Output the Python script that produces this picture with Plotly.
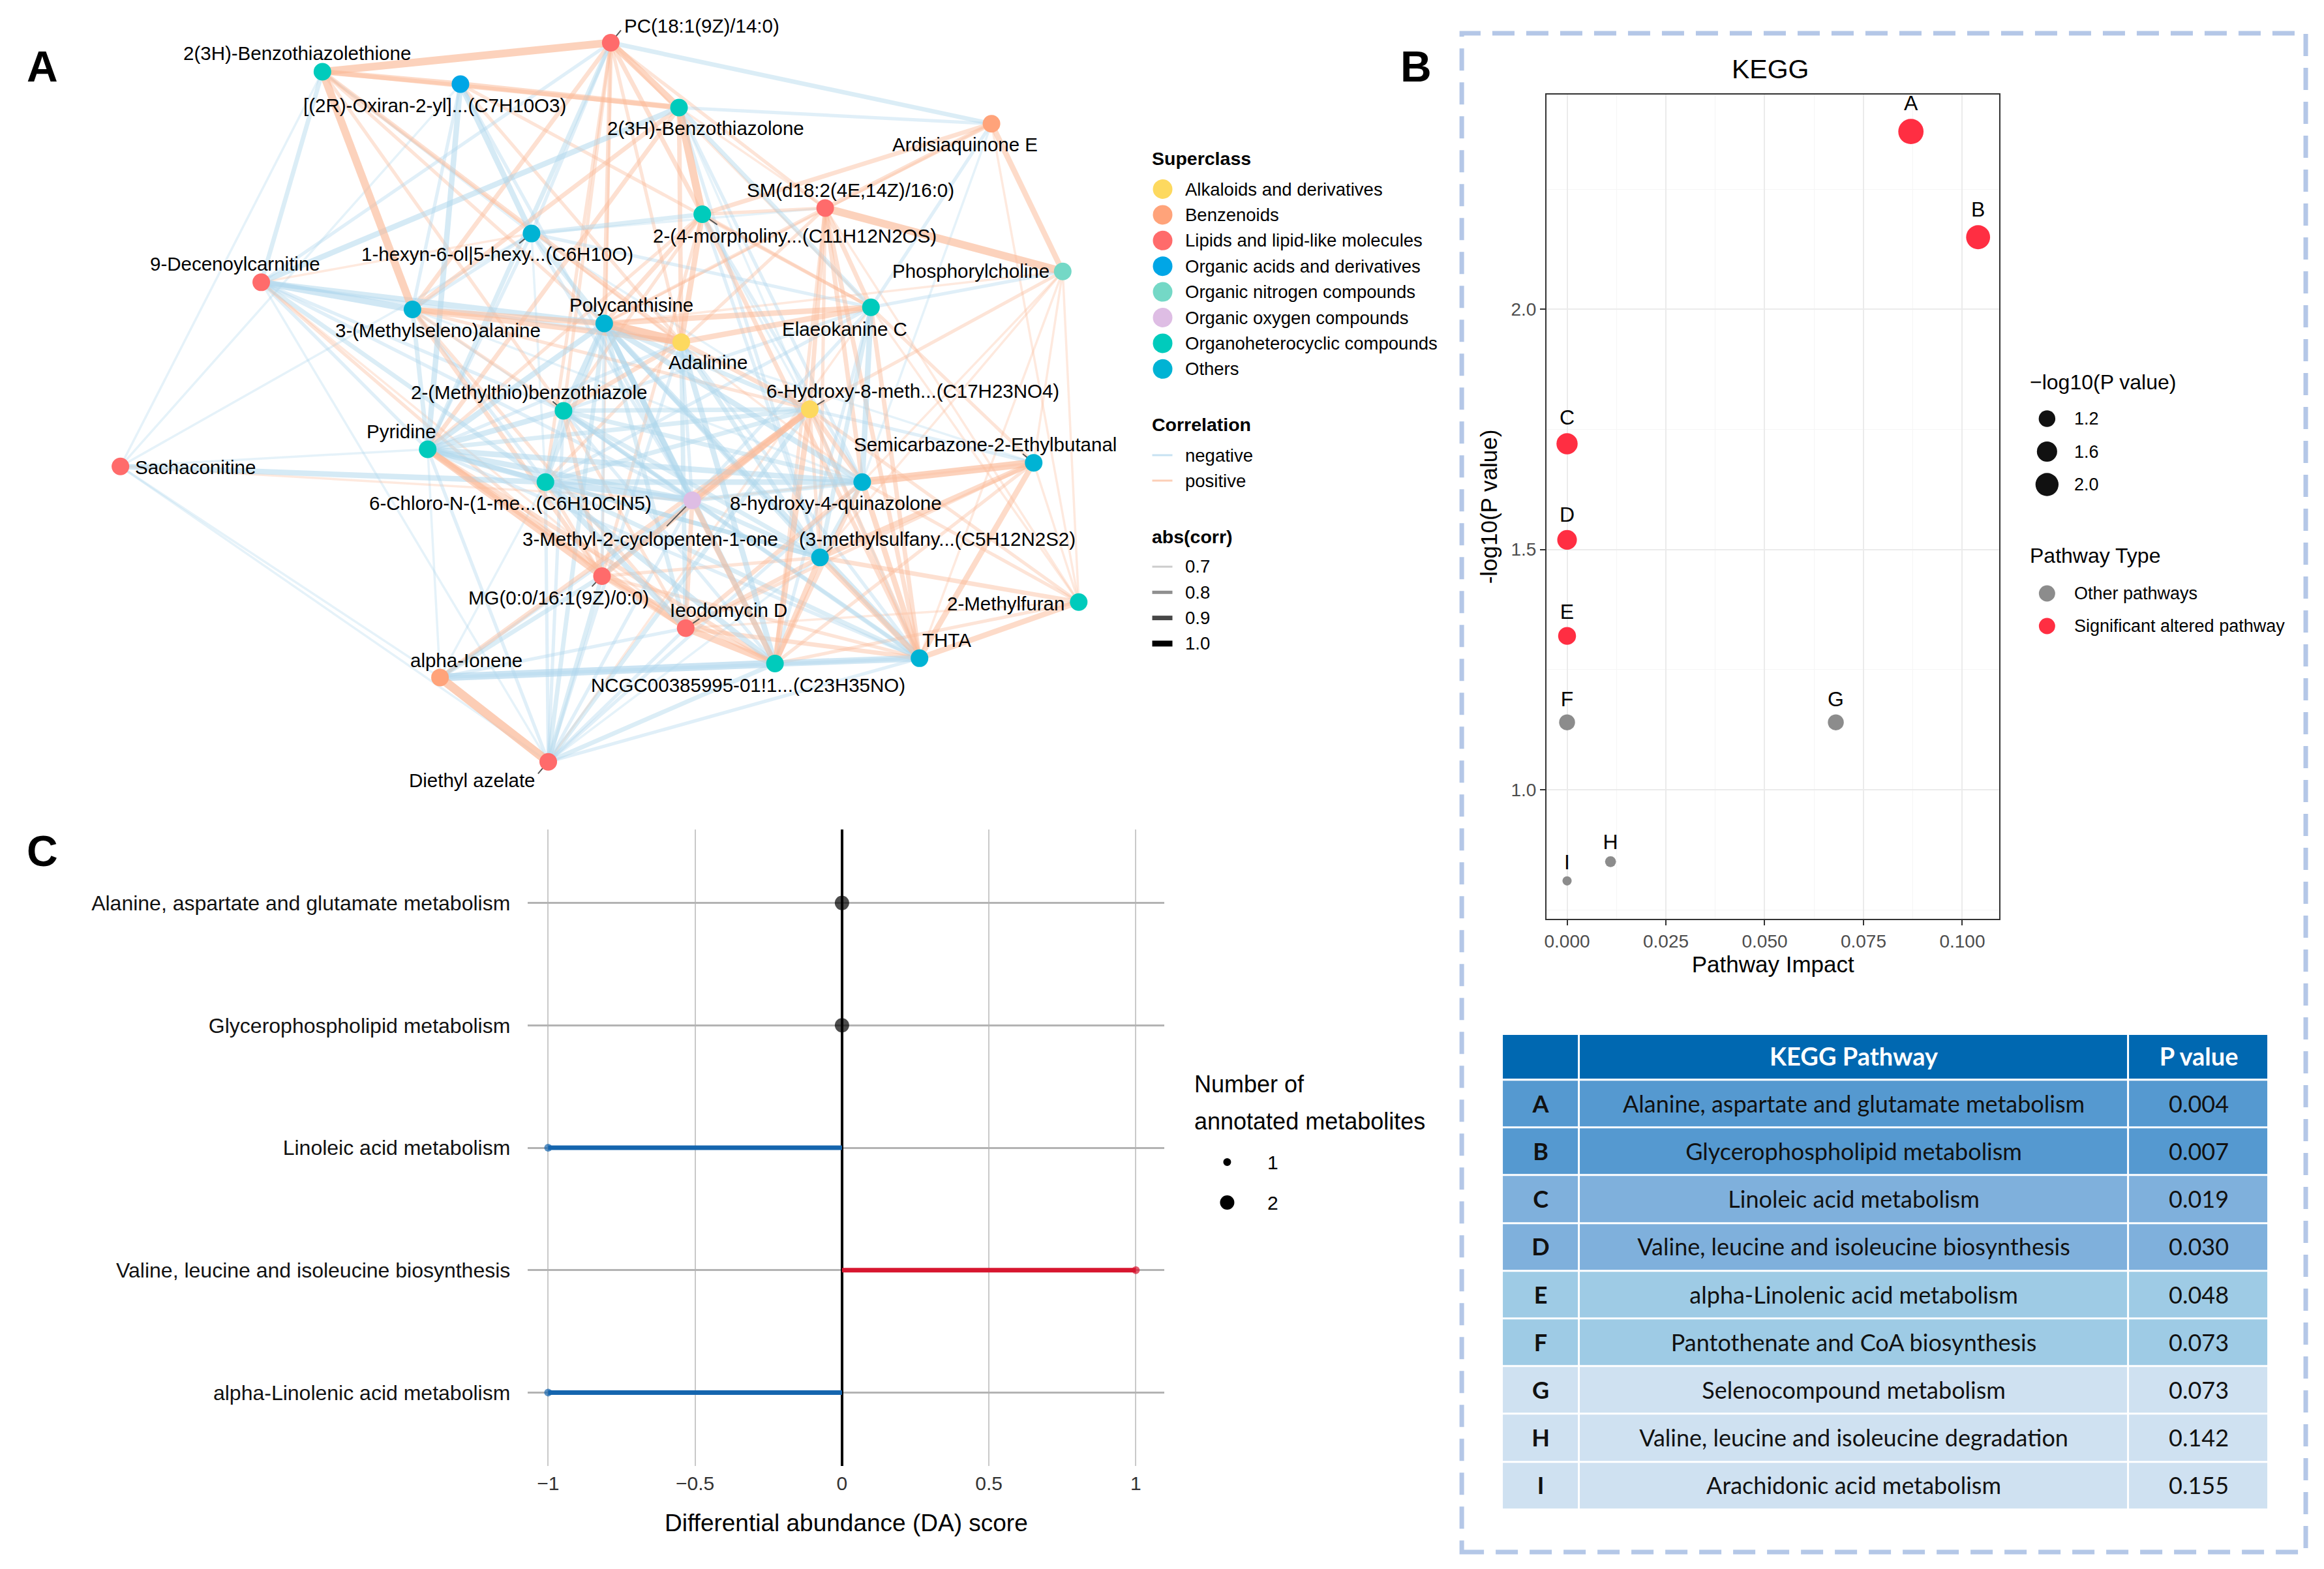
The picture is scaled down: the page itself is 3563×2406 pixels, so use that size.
import plotly.graph_objects as go

W, H = 3563, 2406
FONT = "Liberation Sans"

# ===================== Panel A : correlation network =====================
node_ids = ["PC", "BTT", "OXI", "BTO", "ARD", "SM", "MOR", "HEX", "PHO", "DEC",
            "ELA", "MSA", "POL", "ADA", "HYD", "MTB", "PYR", "SAC", "SEM", "CHL",
            "HQZ", "MCP", "MSF", "MG", "MFU", "IEO", "THTA", "NCGC", "ION", "DEA"]
node_labels = ["PC(18:1(9Z)/14:0)", "2(3H)-Benzothiazolethione", "[(2R)-Oxiran-2-yl]...(C7H10O3)",
               "2(3H)-Benzothiazolone", "Ardisiaquinone E", "SM(d18:2(4E,14Z)/16:0)",
               "2-(4-morpholiny...(C11H12N2OS)", "1-hexyn-6-ol|5-hexy...(C6H10O)", "Phosphorylcholine",
               "9-Decenoylcarnitine", "Elaeokanine C", "3-(Methylseleno)alanine", "Polycanthisine",
               "Adalinine", "6-Hydroxy-8-meth...(C17H23NO4)", "2-(Methylthio)benzothiazole", "Pyridine",
               "Sachaconitine", "Semicarbazone-2-Ethylbutanal", "6-Chloro-N-(1-me...(C6H10ClN5)",
               "8-hydroxy-4-quinazolone", "3-Methyl-2-cyclopenten-1-one", "(3-methylsulfany...(C5H12N2S2)",
               "MG(0:0/16:1(9Z)/0:0)", "2-Methylfuran", "Ieodomycin D", "THTA",
               "NCGC00385995-01!1...(C23H35NO)", "alpha-Ionene", "Diethyl azelate"]
node_superclass = ["Lipids and lipid-like molecules", "Organoheterocyclic compounds", "Organic acids and derivatives",
                   "Organoheterocyclic compounds", "Benzenoids", "Lipids and lipid-like molecules",
                   "Organoheterocyclic compounds", "Others", "Organic nitrogen compounds",
                   "Lipids and lipid-like molecules", "Organoheterocyclic compounds", "Others", "Others",
                   "Alkaloids and derivatives", "Alkaloids and derivatives", "Organoheterocyclic compounds",
                   "Organoheterocyclic compounds", "Lipids and lipid-like molecules", "Others",
                   "Organoheterocyclic compounds", "Others", "Organic oxygen compounds", "Others",
                   "Lipids and lipid-like molecules", "Organoheterocyclic compounds",
                   "Lipids and lipid-like molecules", "Others", "Organoheterocyclic compounds", "Benzenoids",
                   "Lipids and lipid-like molecules"]
# network layout coordinates (layout units)
node_x = [411.1, 216.4, 309.6, 457.2, 668.2, 555.9, 472.9, 357.6, 716.3, 175.1,
          586.8, 277.2, 406.7, 458.7, 545.5, 379.2, 287.5, 80.0, 696.7, 367.0,
          580.9, 466.1, 552.4, 405.2, 727.1, 461.7, 619.6, 522.0, 295.8, 368.9]
node_y = [28.8, 48.4, 56.8, 72.6, 83.5, 140.4, 144.6, 157.6, 183.2, 190.5,
          207.4, 208.8, 218.3, 230.9, 276.2, 277.2, 303.2, 314.8, 312.3, 325.3,
          325.3, 337.6, 376.2, 388.8, 406.3, 423.9, 444.2, 447.8, 457.2, 514.1]

superclass_names = ["Alkaloids and derivatives", "Benzenoids", "Lipids and lipid-like molecules",
                    "Organic acids and derivatives", "Organic nitrogen compounds", "Organic oxygen compounds",
                    "Organoheterocyclic compounds", "Others"]
corr_levels = [0.7, 0.8, 0.9, 1.0]

edges = [
    ("BTT", "PC", 0.95), ("BTT", "OXI", 0.85), ("BTT", "BTO", 0.8), ("BTT", "MSA", 0.95),
    ("BTT", "DEC", -0.8), ("BTT", "SAC", -0.7), ("BTT", "ADA", 0.8), ("BTT", "MTB", 0.75),
    ("BTT", "HQZ", 0.7), ("BTT", "HEX", -0.7), ("BTT", "POL", 0.75),
    ("OXI", "BTO", 0.85), ("OXI", "PYR", -0.85), ("OXI", "HEX", -0.85), ("OXI", "MSA", -0.75),
    ("OXI", "SAC", -0.7), ("OXI", "ELA", 0.75), ("OXI", "MCP", -0.75), ("OXI", "ADA", 0.75),
    ("PC", "BTO", 0.9), ("PC", "ARD", -0.8), ("PC", "SM", 0.75), ("PC", "MOR", 0.8),
    ("PC", "MSA", 0.8), ("PC", "POL", 0.8), ("PC", "ADA", 0.75), ("PC", "MTB", 0.75),
    ("PC", "PYR", -0.8), ("PC", "HEX", -0.75), ("PC", "ELA", 0.7), ("PC", "DEC", -0.75),
    ("PC", "CHL", 0.75), ("PC", "MG", 0.7),
    ("BTO", "MOR", 0.95), ("BTO", "ARD", -0.75), ("BTO", "ADA", 0.8), ("BTO", "HQZ", -0.75),
    ("BTO", "ELA", -0.8), ("BTO", "SM", 0.7), ("BTO", "THTA", -0.7), ("BTO", "MSA", 0.8),
    ("BTO", "PYR", 0.8), ("BTO", "DEC", -0.85), ("BTO", "MSF", -0.75),
    ("ARD", "PHO", 0.85), ("ARD", "SM", 0.8), ("ARD", "MOR", 0.8), ("ARD", "ELA", -0.75),
    ("ARD", "HQZ", -0.7), ("ARD", "MFU", 0.7), ("ARD", "POL", 0.7),
    ("SM", "PHO", 0.95), ("SM", "MOR", 0.75), ("SM", "HEX", -0.7), ("SM", "ELA", 0.8),
    ("SM", "HYD", 0.8), ("SM", "HQZ", 0.8), ("SM", "THTA", 0.8), ("SM", "MSF", 0.75),
    ("SM", "NCGC", 0.75), ("SM", "POL", 0.75), ("SM", "MFU", 0.7), ("SM", "ADA", 0.75),
    ("MOR", "HEX", -0.8), ("MOR", "ELA", 0.75), ("MOR", "POL", 0.8), ("MOR", "ADA", 0.85),
    ("MOR", "HQZ", -0.75), ("MOR", "MSF", -0.75), ("MOR", "MTB", 0.75), ("MOR", "THTA", 0.8),
    ("MOR", "HYD", -0.7), ("MOR", "PYR", 0.75), ("MOR", "MG", 0.75),
    ("HEX", "MSA", -0.75), ("HEX", "POL", -0.8), ("HEX", "PYR", -0.75), ("HEX", "ELA", -0.75),
    ("HEX", "MCP", -0.75), ("HEX", "CHL", -0.7), ("HEX", "HYD", -0.7), ("HEX", "DEC", 0.7),
    ("PHO", "HYD", 0.75), ("PHO", "ELA", -0.75), ("PHO", "SEM", 0.7), ("PHO", "MFU", 0.7),
    ("PHO", "THTA", 0.7), ("PHO", "HQZ", 0.7), ("PHO", "POL", 0.7), ("PHO", "MSF", 0.7),
    ("DEC", "MSA", -0.9), ("DEC", "POL", -0.85), ("DEC", "CHL", -0.8), ("DEC", "PYR", -0.75),
    ("DEC", "MCP", -0.75), ("DEC", "MG", 0.75), ("DEC", "IEO", 0.7), ("DEC", "DEA", -0.7),
    ("DEC", "ADA", -0.75), ("DEC", "MTB", -0.75),
    ("ELA", "POL", 0.85), ("ELA", "ADA", 0.85), ("ELA", "HQZ", -0.85), ("ELA", "MSF", -0.8),
    ("ELA", "THTA", 0.8), ("ELA", "MCP", -0.75), ("ELA", "CHL", -0.75), ("ELA", "MTB", -0.75),
    ("ELA", "DEA", 0.7), ("ELA", "NCGC", -0.75),
    ("MSA", "POL", 0.85), ("MSA", "ADA", 0.85), ("MSA", "PYR", -0.8), ("MSA", "MTB", 0.75),
    ("MSA", "MG", 0.8), ("MSA", "CHL", -0.75), ("MSA", "IEO", 0.75), ("MSA", "HQZ", -0.7),
    ("MSA", "MCP", -0.7), ("MSA", "HYD", 0.75),
    ("POL", "ADA", 1.0), ("POL", "MTB", -0.85), ("POL", "PYR", -0.85), ("POL", "CHL", -0.8),
    ("POL", "MCP", -0.85), ("POL", "HQZ", -0.85), ("POL", "MSF", -0.8), ("POL", "THTA", -0.85),
    ("POL", "NCGC", -0.85), ("POL", "IEO", -0.8), ("POL", "MG", -0.75), ("POL", "DEA", -0.8),
    ("POL", "HYD", -0.8), ("POL", "SEM", -0.7),
    ("ADA", "HYD", 0.8), ("ADA", "MCP", -0.75), ("ADA", "NCGC", -0.85), ("ADA", "MSF", -0.8),
    ("ADA", "CHL", 0.75), ("ADA", "MTB", 0.8), ("ADA", "IEO", -0.8), ("ADA", "THTA", -0.75),
    ("ADA", "DEA", -0.75), ("ADA", "PYR", -0.75),
    ("HYD", "MCP", 0.9), ("HYD", "MG", 0.85), ("HYD", "NCGC", 0.85), ("HYD", "THTA", 0.8),
    ("HYD", "HQZ", 0.8), ("HYD", "MSF", 0.75), ("HYD", "MFU", 0.75), ("HYD", "SEM", -0.75),
    ("HYD", "MTB", -0.8), ("HYD", "PYR", -0.8), ("HYD", "CHL", -0.8), ("HYD", "ION", 0.8),
    ("HYD", "DEA", -0.8),
    ("MTB", "PYR", -0.85), ("MTB", "CHL", -0.8), ("MTB", "MCP", -0.8), ("MTB", "HQZ", -0.8),
    ("MTB", "NCGC", -0.75), ("MTB", "IEO", 0.75), ("MTB", "MG", 0.8), ("MTB", "THTA", -0.75),
    ("MTB", "DEA", -0.75), ("MTB", "MSF", -0.8),
    ("PYR", "CHL", -0.85), ("PYR", "MCP", -0.85), ("PYR", "HQZ", -0.85), ("PYR", "MG", 0.9),
    ("PYR", "IEO", 0.85), ("PYR", "NCGC", 0.8), ("PYR", "DEA", -0.75), ("PYR", "ION", -0.7),
    ("PYR", "MSF", -0.8), ("PYR", "THTA", -0.75), ("PYR", "SAC", -0.7),
    ("SAC", "CHL", -0.85), ("SAC", "MCP", 0.7), ("SAC", "DEA", -0.7), ("SAC", "ION", -0.7),
    ("SAC", "HEX", -0.7),
    ("CHL", "MCP", -0.9), ("CHL", "HQZ", -0.85), ("CHL", "IEO", -0.85), ("CHL", "NCGC", -0.85),
    ("CHL", "MG", 0.75), ("CHL", "DEA", -0.75), ("CHL", "THTA", -0.8), ("CHL", "MSF", -0.8),
    ("CHL", "ION", -0.7),
    ("SEM", "HQZ", 0.95), ("SEM", "THTA", 0.85), ("SEM", "MSF", 0.85), ("SEM", "MFU", 0.7),
    ("SEM", "NCGC", 0.75), ("SEM", "MCP", 0.7), ("SEM", "IEO", 0.75), ("SEM", "ELA", 0.75),
    ("HQZ", "MSF", -0.8), ("HQZ", "THTA", 0.85), ("HQZ", "NCGC", 0.8), ("HQZ", "MCP", -0.8),
    ("HQZ", "IEO", 0.8), ("HQZ", "MFU", 0.75), ("HQZ", "DEA", -0.75),
    ("MCP", "NCGC", 0.85), ("MCP", "IEO", 0.8), ("MCP", "MG", -0.8), ("MCP", "DEA", -0.75),
    ("MCP", "MSF", -0.8), ("MCP", "THTA", -0.8), ("MCP", "ION", -0.75),
    ("MSF", "THTA", 0.85), ("MSF", "NCGC", 0.85), ("MSF", "MFU", 0.8), ("MSF", "IEO", 0.8),
    ("MSF", "MG", 0.75), ("MSF", "DEA", -0.7),
    ("MG", "IEO", 0.8), ("MG", "NCGC", 0.8), ("MG", "ION", -0.8), ("MG", "DEA", -0.8),
    ("MG", "THTA", 0.75),
    ("MFU", "THTA", 0.85), ("MFU", "NCGC", 0.75), ("MFU", "IEO", 0.7), ("MFU", "ELA", 0.7),
    ("IEO", "NCGC", 0.9), ("IEO", "THTA", 0.8), ("IEO", "DEA", -0.75), ("IEO", "ION", -0.75),
    ("THTA", "NCGC", -0.9), ("THTA", "ION", -0.75), ("THTA", "DEA", -0.75),
    ("NCGC", "ION", -0.95), ("NCGC", "DEA", -0.8),
    ("ION", "DEA", 1.0),
]

# ===================== Panel B : KEGG pathway analysis =====================
kegg_ids = ["A", "B", "C", "D", "E", "F", "G", "H", "I"]
kegg_pathways = ["Alanine, aspartate and glutamate metabolism", "Glycerophospholipid metabolism",
                 "Linoleic acid metabolism", "Valine, leucine and isoleucine biosynthesis",
                 "alpha-Linolenic acid metabolism", "Pantothenate and CoA biosynthesis",
                 "Selenocompound metabolism", "Valine, leucine and isoleucine degradation",
                 "Arachidonic acid metabolism"]
kegg_pvalue = ["0.004", "0.007", "0.019", "0.030", "0.048", "0.073", "0.073", "0.142", "0.155"]
kegg_impact = [0.087, 0.104, 0.0, 0.0, 0.0, 0.0, 0.068, 0.011, 0.0]
kegg_neglogp = [2.37, 2.15, 1.72, 1.52, 1.32, 1.14, 1.14, 0.85, 0.81]
kegg_type = ["Significant altered pathway"] * 5 + ["Other pathways"] * 4
size_legend_values = [1.2, 1.6, 2.0]
type_levels = ["Other pathways", "Significant altered pathway"]
table_header = ["", "KEGG Pathway", "P value"]
table_shade = [0, 0, 1, 1, 2, 2, 3, 3, 3]   # shading group of each table row

# ===================== Panel C : DA score =====================
da_pathways = ["Alanine, aspartate and glutamate metabolism", "Glycerophospholipid metabolism",
               "Linoleic acid metabolism", "Valine, leucine and isoleucine biosynthesis",
               "alpha-Linolenic acid metabolism"]
da_score = [0, 0, -1, 1, -1]
da_count = [2, 2, 1, 1, 1]

# ------------------------------------------------------------------ styles
class_color = {
    "Alkaloids and derivatives": "#FDD95F",
    "Benzenoids": "#FFA37A",
    "Lipids and lipid-like molecules": "#FF6B6B",
    "Organic acids and derivatives": "#00A6E6",
    "Organic nitrogen compounds": "#74D8C6",
    "Organic oxygen compounds": "#DEBDE4",
    "Organoheterocyclic compounds": "#00CBBC",
    "Others": "#00B3D4",
}
type_color = {"Other pathways": "#8C8C8C", "Significant altered pathway": "#FF2E42"}
shade_colors = ["#5599D0", "#7FB0DC", "#9ECBE5", "#CFE1F1"]


def edge_style(c):
    a = abs(c)
    t = (a - 0.7) / 0.3
    width = 3.5 + 10 * t
    alpha = 0.32 + 0.40 * t
    if c > 0:
        return f"rgba(251,186,152,{alpha:.2f})", width
    return f"rgba(175,214,236,{alpha:.2f})", width


def kegg_size(v):
    return 12 + 27 * max(v - 0.8, 0) ** 0.5 / 1.6 ** 0.5


shapes, annotations = [], []


def P(x, y):
    return x / W, 1 - y / H


def add_text(x, y, s, size, color="#000000", xanchor="left", yanchor="middle", family=FONT, textangle=0):
    px, py = P(x, y)
    annotations.append(dict(x=px, y=py, xref="paper", yref="paper", text=s, showarrow=False,
                            xanchor=xanchor, yanchor=yanchor, textangle=textangle,
                            font=dict(size=size, color=color, family=family)))


def add_circle(cx, cy, d, color):
    x0, y0 = P(cx - d / 2, cy + d / 2)
    x1, y1 = P(cx + d / 2, cy - d / 2)
    shapes.append(dict(type="circle", xref="paper", yref="paper", x0=x0, y0=y0, x1=x1, y1=y1,
                       fillcolor=color, line=dict(width=0)))


def add_hline(xa, xb, y, width, color):
    x0, yy = P(xa, y)
    x1, _ = P(xb, y)
    shapes.append(dict(type="line", xref="paper", yref="paper", x0=x0, x1=x1, y0=yy, y1=yy,
                       line=dict(color=color, width=width)))


fig = go.Figure()
idx = {n: i for i, n in enumerate(node_ids)}

# ---- network edges
for a, b, c in sorted(edges, key=lambda e: abs(e[2])):
    col, w = edge_style(c)
    fig.add_trace(go.Scatter(x=[node_x[idx[a]], node_x[idx[b]]], y=[node_y[idx[a]], node_y[idx[b]]],
                             mode="lines", line=dict(color=col, width=w), hoverinfo="skip",
                             xaxis="x", yaxis="y"))

# ---- label placement (layout units)
label_pos = {
    "PC": (419.5, 17.5, "left"), "BTT": (199.2, 35.8, "center"), "OXI": (292.4, 71.2, "center"),
    "BTO": (475.4, 86.3, "center"), "ARD": (650.5, 97.6, "center"), "SM": (573.0, 128.4, "center"),
    "MOR": (535.3, 159.3, "center"), "HEX": (334.6, 171.6, "center"), "PHO": (654.5, 182.8, "center"),
    "DEC": (157.5, 177.9, "center"), "ELA": (569.1, 221.8, "center"), "MSA": (294.4, 222.8, "center"),
    "POL": (424.9, 205.6, "center"), "ADA": (476.9, 244.6, "center"), "HYD": (615.2, 263.9, "center"),
    "MTB": (355.7, 264.6, "center"), "PYR": (269.8, 290.9, "center"), "SAC": (88.8, 315.1, "left"),
    "SEM": (663.8, 300.0, "center"), "CHL": (343.4, 339.7, "center"), "HQZ": (563.2, 339.7, "center"),
    "MCP": (437.6, 363.9, "center"), "MSF": (631.4, 363.9, "center"), "MG": (375.8, 403.5, "center"),
    "MFU": (678.0, 407.4, "center"), "IEO": (490.6, 411.6, "center"), "THTA": (637.8, 432.0, "center"),
    "NCGC": (503.9, 462.1, "center"), "ION": (313.5, 445.6, "center"), "DEA": (317.4, 526.7, "center"),
}
leader_end = {
    "PC": (418.0, 20.4), "MOR": (483.0, 151.6), "HEX": (349.3, 164.2), "HYD": (555.4, 270.2),
    "MTB": (371.9, 270.9), "SEM": (689.3, 306.3), "MCP": (448.9, 355.1), "MSF": (560.8, 369.2),
    "MG": (398.4, 395.8), "IEO": (471.0, 417.6), "DEA": (362.0, 522.1),
}
lx, ly = [], []
for n, (ex, ey) in leader_end.items():
    lx += [node_x[idx[n]], ex, None]
    ly += [node_y[idx[n]], ey, None]
fig.add_trace(go.Scatter(x=lx, y=ly, mode="lines", line=dict(color="#555555", width=2),
                         hoverinfo="skip", xaxis="x", yaxis="y"))

# ---- nodes
fig.add_trace(go.Scatter(x=node_x, y=node_y, mode="markers",
                         marker=dict(size=27, color=[class_color[c] for c in node_superclass],
                                     line=dict(width=0)),
                         hoverinfo="skip", xaxis="x", yaxis="y"))
for n, lab in zip(node_ids, node_labels):
    x, y, anc = label_pos[n]
    annotations.append(dict(x=x, y=y, xref="x", yref="y", text=lab, showarrow=False,
                            xanchor=anc, yanchor="middle",
                            font=dict(size=29.5, color="#000000", family=FONT)))

# ---- Panel A legend
LX = 1762
add_text(LX, 243, "<b>Superclass</b>", 28.5)
for i, name in enumerate(superclass_names):
    y = 290 + i * 39.4
    add_circle(LX + 19, y, 30, class_color[name])
    add_text(LX + 52, y, name, 27.5)
add_text(LX, 651, "<b>Correlation</b>", 28.5)
add_hline(LX + 3, LX + 34, 698, 3, "rgba(175,214,236,0.7)")
add_text(LX + 52, 698, "negative", 27.5)
add_hline(LX + 3, LX + 34, 737, 3, "rgba(251,186,152,0.7)")
add_text(LX + 52, 737, "positive", 27.5)
add_text(LX, 823, "<b>abs(corr)</b>", 28.5)
abs_style = [(3, "#CCCCCC"), (5, "#8F8F8F"), (7, "#474747"), (9, "#000000")]
for i, lv in enumerate(corr_levels):
    y = 869 + i * 39.3
    w, col = abs_style[i]
    add_hline(LX + 3, LX + 34, y, w, col)
    add_text(LX + 52, y, f"{lv:.1f}", 27.5)

# ---- Panel letters
add_text(62, 102, "<b>A</b>", 66, xanchor="center")
add_text(2170, 102, "<b>B</b>", 66, xanchor="center")
add_text(62, 1305, "<b>C</b>", 66, xanchor="center")

# ---- Panel B scatter
fig.add_trace(go.Scatter(
    x=kegg_impact, y=kegg_neglogp, mode="markers+text", text=kegg_ids, textposition="top center",
    textfont=dict(size=32, color="#000000", family=FONT),
    marker=dict(size=[kegg_size(v) for v in kegg_neglogp], color=[type_color[t] for t in kegg_type],
                line=dict(width=0), opacity=1),
    hoverinfo="skip", cliponaxis=False, xaxis="x2", yaxis="y2"))

add_text(2713, 106, "KEGG", 41, xanchor="center")
add_text(3110, 586, "\u2212log10(P value)", 32)
for i, v in enumerate(size_legend_values):
    y = 642 + i * 50.5
    add_circle(3138, y, kegg_size(v), "#111111")
    add_text(3178, y, f"{v:.1f}", 27)
add_text(3110, 852, "Pathway Type", 32)
for i, t in enumerate(type_levels):
    y = 910 + i * 50
    add_circle(3138, y, 25, type_color[t])
    add_text(3178, y, t, 27)

# dashed frame around panel B
x0, y0 = P(2240, 2380)
x1, y1 = P(3535, 51)
shapes.append(dict(type="rect", xref="paper", yref="paper", x0=x0, y0=y0, x1=x1, y1=y1,
                   line=dict(color="#B4C7E7", width=7, dash="34px,18px"), fillcolor="rgba(0,0,0,0)"))

# ---- Panel B table (drawn as heatmap cells on its own axes)
col_w = [118, 843, 215]
col_edges = [0, col_w[0], col_w[0] + col_w[1], sum(col_w)]
head_h, row_h = 70, 73
row_edges = [head_h + k * row_h for k in range(len(kegg_ids) + 1)]
shade_scale = [[i / (len(shade_colors) - 1), c] for i, c in enumerate(shade_colors)]

fig.add_trace(go.Heatmap(
    x=col_edges, y=[0, head_h], z=[[0, 0, 0]],
    colorscale=[[0, "#0068B1"], [1, "#0068B1"]], showscale=False, xgap=3, ygap=3,
    text=[[f"<b>{h}</b>" for h in table_header]], texttemplate="%{text}",
    textfont=dict(family="Lato", size=38, color="white"),
    hoverinfo="skip", xaxis="x4", yaxis="y4"))
fig.add_trace(go.Heatmap(
    x=col_edges, y=row_edges, z=[[s, s, s] for s in table_shade],
    colorscale=shade_scale, zmin=0, zmax=len(shade_colors) - 1, showscale=False, xgap=3, ygap=3,
    text=[[f"<b>{k}</b>", p, v] for k, p, v in zip(kegg_ids, kegg_pathways, kegg_pvalue)],
    texttemplate="%{text}", textfont=dict(family="Lato", size=36, color="#111111"),
    hoverinfo="skip", xaxis="x4", yaxis="y4"))

# ---- Panel C
seg_color = {1: "#D7162F", -1: "#1565AE", 0: "#000000"}
for name, s in zip(da_pathways, da_score):
    if s == 0:
        continue
    sign = 1 if s > 0 else -1
    fig.add_trace(go.Scatter(x=[0, s], y=[name, name], mode="lines",
                             line=dict(color=seg_color[sign], width=7), hoverinfo="skip",
                             xaxis="x3", yaxis="y3"))
fig.add_trace(go.Scatter(
    x=da_score, y=da_pathways, mode="markers",
    marker=dict(size=[12 if n == 1 else 22 for n in da_count],
                color=[seg_color[(s > 0) - (s < 0)] for s in da_score], line=dict(width=0)),
    hoverinfo="skip", cliponaxis=False, xaxis="x3", yaxis="y3"))

add_text(1828, 1662, "Number of", 36)
add_text(1828, 1719, "annotated metabolites", 36)
for i, n in enumerate([1, 2]):
    y = 1782 + i * 62
    add_circle(1880, y, 12 if n == 1 else 22, "#000000")
    add_text(1950, y, str(n), 30, xanchor="center")

fig.update_layout(
    width=W, height=H, autosize=False, margin=dict(l=0, r=0, t=0, b=0),
    paper_bgcolor="white", plot_bgcolor="rgba(0,0,0,0)", showlegend=False, hovermode=False,
    font=dict(family=FONT, color="#000000"),
    xaxis=dict(domain=[0, 1750 / W], range=[0, 1750 / 2.2723], visible=False, fixedrange=True),
    yaxis=dict(domain=[1 - 1250 / H, 1], range=[1250 / 2.2723, 0], visible=False, fixedrange=True),
    xaxis2=dict(domain=[2370 / W, 3065 / W], range=[-0.0052, 0.1094], anchor="y2",
                tick0=0, dtick=0.025, tickformat=".3f", ticks="outside", ticklen=8, tickwidth=2,
                tickcolor="#333333", showline=True, mirror=True, linecolor="#333333", linewidth=2,
                showgrid=True, gridcolor="#EBEBEB", gridwidth=2, zeroline=False,
                minor=dict(tick0=0, dtick=0.0125, showgrid=True, gridcolor="#F5F5F5", gridwidth=1),
                tickfont=dict(size=28, color="#4D4D4D"),
                title=dict(text="Pathway Impact", font=dict(size=35, color="#000000"), standoff=6)),
    yaxis2=dict(domain=[1 - 1409 / H, 1 - 145 / H], range=[0.731, 2.447], anchor="x2",
                tick0=0, dtick=0.5, tickformat=".1f", ticks="outside", ticklen=8, tickwidth=2,
                tickcolor="#333333", showline=True, mirror=True, linecolor="#333333", linewidth=2,
                showgrid=True, gridcolor="#EBEBEB", gridwidth=2, zeroline=False,
                minor=dict(tick0=0, dtick=0.25, showgrid=True, gridcolor="#F5F5F5", gridwidth=1),
                tickfont=dict(size=28, color="#4D4D4D"),
                title=dict(text="-log10(P value)", font=dict(size=35, color="#000000"), standoff=10)),
    xaxis3=dict(domain=[807 / W, 1784 / W], range=[-1.069, 1.098], anchor="y3",
                tickvals=[-1, -0.5, 0, 0.5, 1], ticktext=["\u22121", "\u22120.5", "0", "0.5", "1"],
                ticks="", showline=False, showgrid=True, gridcolor="#C9C9C9", gridwidth=2,
                zeroline=True, zerolinecolor="#000000", zerolinewidth=4,
                tickfont=dict(size=30, color="#333333"), ticklabelstandoff=6,
                title=dict(text="Differential abundance (DA) score", font=dict(size=37, color="#000000"),
                           standoff=32)),
    yaxis3=dict(domain=[1 - 2248 / H, 1 - 1272 / H], type="category", categoryarray=da_pathways,
                categoryorder="array", range=[4.6, -0.6], anchor="x3", ticks="", showline=False,
                showgrid=True, gridcolor="#B3B3B3", gridwidth=3, zeroline=False,
                tickfont=dict(size=32, color="#111111"), ticklabelstandoff=26),
    xaxis4=dict(domain=[2302 / W, 3478 / W], range=[0, sum(col_w)], anchor="y4", visible=False,
                fixedrange=True),
    yaxis4=dict(domain=[1 - 2315 / H, 1 - 1586 / H], range=[row_edges[-1], 0], anchor="x4",
                visible=False, fixedrange=True),
    shapes=shapes, annotations=annotations,
)

fig.write_html("out.html", config={"displayModeBar": False},
               post_script="document.body.style.margin='0px';"
                           "document.body.style.overflow='hidden';")
